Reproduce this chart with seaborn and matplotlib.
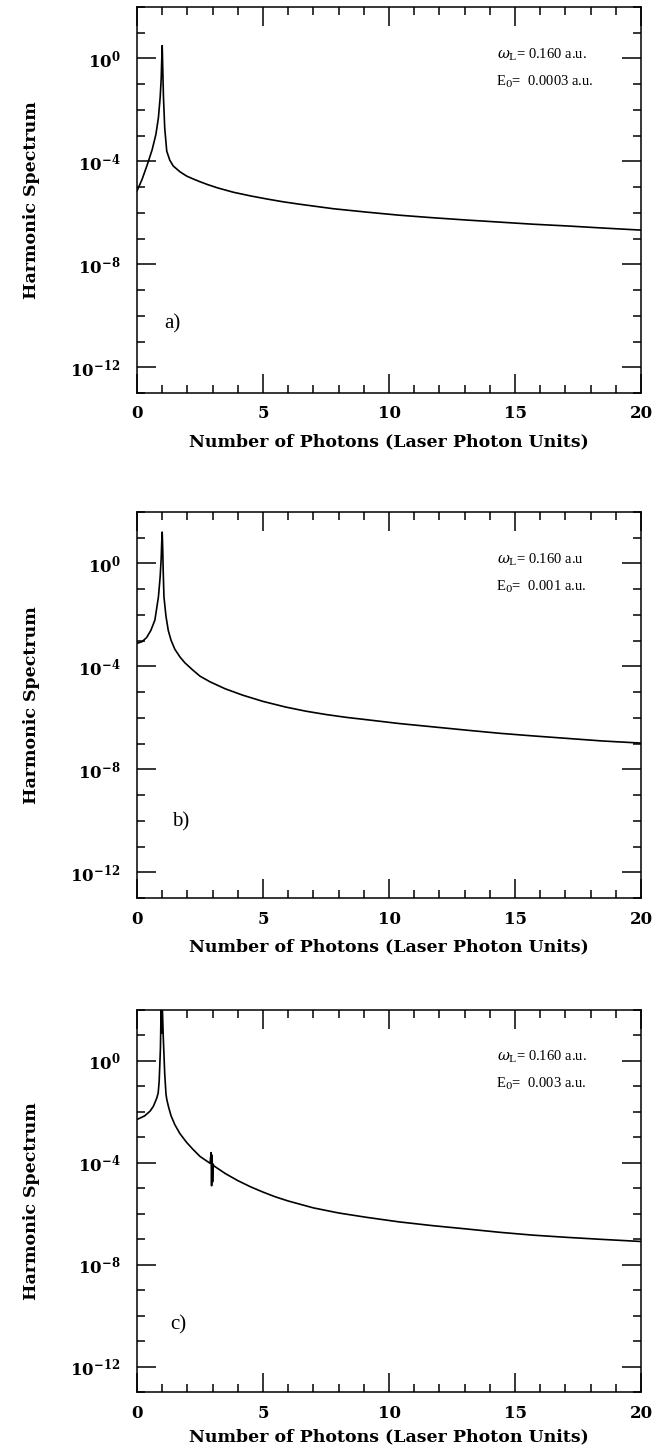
import numpy as np
import pandas as pd
import matplotlib
matplotlib.use("Agg")
import matplotlib.pyplot as plt
from matplotlib.ticker import FixedLocator, FuncFormatter, NullFormatter, MultipleLocator
import seaborn as sns

# ---------------- data (log10 of harmonic spectrum) ----------------
a_x = [0, 0.2, 0.4, 0.6, 0.75, 0.85, 0.92, 0.96, 0.98, 1.0, 1.02, 1.05, 1.1, 1.18, 1.3,
       1.44, 1.7, 1.97, 2.2, 2.5, 2.8, 3.2, 3.83, 4.5, 5.15, 5.8, 6.5, 7.8, 9.1,
       10.4, 11.75, 13.1, 14.4, 15.7, 17.1, 18.5, 20]
a_log = [-5.15, -4.7, -4.15, -3.55, -2.95, -2.3, -1.5, -0.8, -0.1, 0.5, -0.3, -1.5, -2.7, -3.6, -3.95,
         -4.18, -4.4, -4.57, -4.67, -4.79, -4.9, -5.03, -5.2, -5.34, -5.46, -5.57, -5.67, -5.84, -5.97,
         -6.09, -6.19, -6.28, -6.36, -6.44, -6.51, -6.59, -6.67]

b_x = [0, 0.2, 0.38, 0.55, 0.71, 0.85, 0.92, 0.96, 0.98, 1.0, 1.02, 1.04, 1.07, 1.15, 1.24,
       1.35, 1.5, 1.71, 1.9, 2.2, 2.5, 2.9, 3.5, 4.2, 5.0, 5.9, 6.7, 7.5, 8.3, 9.1,
       10.4, 11.75, 13.1, 14.4, 15.7, 17.1, 18.5, 20]
b_log = [-3.1, -3.04, -2.88, -2.6, -2.2, -1.3, -0.5, 0.2, 0.8, 1.22, 0.6, -0.3, -1.3, -2.05, -2.6,
         -2.98, -3.33, -3.64, -3.86, -4.13, -4.38, -4.6, -4.87, -5.12, -5.36, -5.58, -5.74, -5.87, -5.98, -6.07,
         -6.22, -6.35, -6.48, -6.6, -6.7, -6.8, -6.9, -6.98]

c_x = [0, 0.3, 0.52, 0.65, 0.78, 0.84, 0.88, 0.93, 0.96, 0.98, 1.0, 1.04, 1.1, 1.15, 1.18,
       1.25, 1.35, 1.5, 1.7, 1.97, 2.2, 2.5, 2.9, 2.94, 2.96, 2.98, 3.0, 3.02, 3.05, 3.5, 4.0,
       4.5, 5.0, 5.5, 6.0, 7.0, 8.0, 9.1, 10.4, 11.75, 13.1, 14.4, 15.7, 17.1, 18.5, 20]
c_log = [-2.3, -2.16, -1.97, -1.78, -1.47, -1.26, -0.8, 0.5, 2.3, 1.1, 2.3, 1.0, -0.5, -1.3, -1.5,
         -1.8, -2.15, -2.5, -2.85, -3.2, -3.45, -3.75, -4.02, -3.6, -4.9, -3.7, -4.75, -4.05, -4.12, -4.42, -4.7,
         -4.94, -5.15, -5.34, -5.5, -5.77, -5.97, -6.14, -6.32, -6.47, -6.6, -6.73, -6.84, -6.93, -7.01, -7.09]

panel_tags = ["a)", "b)", "c)"]
omega_texts = [r"$\omega_{\rm L}$= 0.160 a.u.", r"$\omega_{\rm L}$= 0.160 a.u", r"$\omega_{\rm L}$= 0.160 a.u."]
field_texts = [r"E$_0$=  0.0003 a.u.", r"E$_0$=  0.001 a.u.", r"E$_0$=  0.003 a.u."]
tag_pos = [(1.1, 10 ** -10.33), (1.38, 10 ** -10.06), (1.3, 10 ** -10.36)]

x_ticks = [0, 5, 10, 15, 20]
y_major = [1e-12, 1e-8, 1e-4, 1e0]
y_minor = [10.0 ** k for k in range(-13, 3) if k % 4 != 0]

xlabel = "Number of Photons (Laser Photon Units)"
ylabel = "Harmonic Spectrum"

# ---------------- style ----------------
sns.set_style("ticks")
plt.rcParams["font.family"] = ["DejaVu Serif"]
plt.rcParams["mathtext.fontset"] = "dejavuserif"
for key in ["text.color", "axes.labelcolor", "xtick.color", "ytick.color", "axes.edgecolor"]:
    plt.rcParams[key] = "black"

W, H = 661, 1445
fig = plt.figure(figsize=(W / 100, H / 100), dpi=100)

# axes boxes in pixels (left, top, right, bottom)
boxes = [(137, 7, 641, 393), (137, 512, 641, 898), (137, 1010, 641, 1392)]
xlabel_pads = [8, 8, 5]

datasets = [(a_x, a_log), (b_x, b_log), (c_x, c_log)]

lab_font = dict(family="DejaVu Serif", weight="bold", size=12.5, color="black")
ann_font = dict(family=["Liberation Serif", "DejaVu Serif"], size=10.5, color="black")

def yfmt(v, pos):
    e = int(round(np.log10(v)))
    return r"$\mathbf{10^{%d}}$" % e

for i, ((l, t, r, b), (xs, ls)) in enumerate(zip(boxes, datasets)):
    ax = fig.add_axes([l / W, 1 - b / H, (r - l) / W, (b - t) / H])
    df = pd.DataFrame({"x": xs, "y": 10.0 ** np.array(ls)})
    sns.lineplot(data=df, x="x", y="y", ax=ax, color="black", linewidth=1.2,
                 sort=False, estimator=None)
    ax.set_yscale("log")
    ax.set_xlim(0, 20)
    ax.set_ylim(1e-13, 1e2)

    ax.xaxis.set_major_locator(FixedLocator(x_ticks))
    ax.xaxis.set_minor_locator(MultipleLocator(1))
    ax.yaxis.set_major_locator(FixedLocator(y_major))
    ax.yaxis.set_minor_locator(FixedLocator(y_minor))
    ax.yaxis.set_major_formatter(FuncFormatter(yfmt))
    ax.yaxis.set_minor_formatter(NullFormatter())

    ax.tick_params(which="both", direction="in", top=True, right=True, width=1.1,
                   color="black", labelcolor="black")
    ax.tick_params(which="major", length=14)
    ax.tick_params(which="minor", length=5.5)
    ax.tick_params(axis="y", which="major", pad=12, labelsize=12)
    ax.tick_params(axis="x", which="major", pad=9, labelsize=12)
    for lab in ax.get_xticklabels():
        lab.set_fontweight("bold")

    for sp in ax.spines.values():
        sp.set_linewidth(1.1)
        sp.set_color("black")

    ax.set_xlabel(xlabel, fontdict=lab_font, labelpad=xlabel_pads[i])
    ax.set_ylabel(ylabel, fontdict=lab_font, labelpad=22)

    ax.text(14.3, 10 ** 0.15, omega_texts[i], fontdict=ann_font, va="center", ha="left")
    ax.text(14.25, 10 ** -0.9, field_texts[i], fontdict=ann_font, va="center", ha="left")
    ax.text(tag_pos[i][0], tag_pos[i][1], panel_tags[i], family=["Liberation Serif"],
            size=15, va="center", ha="left", color="black")

fig.savefig("out.png", dpi=100)
